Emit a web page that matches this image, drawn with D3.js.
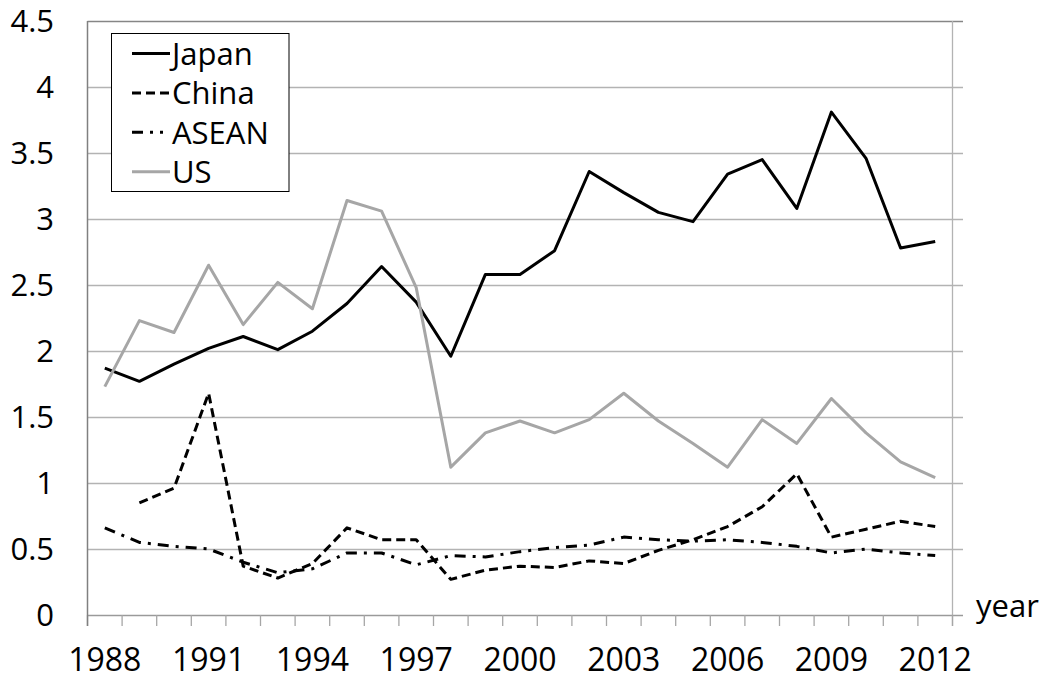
<!DOCTYPE html>
<html>
<head>
<meta charset="utf-8">
<script src="https://cdn.jsdelivr.net/npm/d3@7"></script>
<style>
  html, body { margin: 0; padding: 0; background: #fff; }
  svg { display: block; }
  text { font-family: "Open Sans", "Noto Sans", sans-serif; fill: #000; }
</style>
</head>
<body>
<svg id="chart" width="1044" height="682"></svg>
<script>
// ---- data ----
const years = [1988,1989,1990,1991,1992,1993,1994,1995,1996,1997,1998,1999,2000,
               2001,2002,2003,2004,2005,2006,2007,2008,2009,2010,2011,2012];
const japan = [1.87,1.77,1.90,2.02,2.11,2.01,2.15,2.36,2.64,2.37,1.96,2.58,2.58,
               2.76,3.36,3.20,3.05,2.98,3.34,3.45,3.08,3.81,3.46,2.78,2.83];
const china = [null,0.85,0.96,1.68,0.37,0.28,0.39,0.66,0.57,0.57,0.27,0.34,0.37,
               0.36,0.41,0.39,0.49,0.57,0.67,0.82,1.07,0.59,0.65,0.71,0.67];
const asean = [0.66,0.55,0.52,0.50,0.40,0.32,0.35,0.47,0.47,0.38,0.45,0.44,0.48,
               0.51,0.53,0.59,0.57,0.56,0.57,0.55,0.52,0.47,0.50,0.47,0.45];
const us    = [1.73,2.23,2.14,2.65,2.20,2.52,2.32,3.14,3.06,2.48,1.12,1.38,1.47,
               1.38,1.48,1.68,1.47,1.30,1.12,1.48,1.30,1.64,1.38,1.16,1.04];
const yTicks = [0,0.5,1,1.5,2,2.5,3,3.5,4,4.5];
const xTickLabels = [1988,1991,1994,1997,2000,2003,2006,2009,2012];
const seriesNames = ["Japan","China","ASEAN","US"];

const series = [
  {name: seriesNames[0], values: japan, color: "#000", dash: null, legendDash: null},
  {name: seriesNames[1], values: china, color: "#000", dash: "9,5", legendDash: "9,5"},
  {name: seriesNames[2], values: asean, color: "#000", dash: "11,7,3,7", legendDash: "11,7,3,7,3,20"},
  {name: seriesNames[3], values: us, color: "#a6a6a6", dash: null, legendDash: null}
];

// ---- layout ----
const svg = d3.select("#chart");
const pLeft = 87.5, pRight = 952.5, pTop = 21, pBottom = 615;

const x = d3.scaleBand().domain(years).range([pLeft, pRight]).padding(0);
const y = d3.scaleLinear().domain([0, 4.5]).range([pBottom, pTop]);
const cx = d => x(d) + x.bandwidth() / 2;

// gridlines
svg.append("g").selectAll("line").data(yTicks.filter(v => v > 0)).join("line")
  .attr("x1", pLeft).attr("x2", 963)
  .attr("y1", d => Math.round(y(d)) + 0.5).attr("y2", d => Math.round(y(d)) + 0.5)
  .attr("stroke", d => d === 4.5 ? "#868686" : "#b3b3b3").attr("stroke-width", 1.3);

// right border line
svg.append("line").attr("x1", pRight).attr("x2", pRight).attr("y1", pTop).attr("y2", pBottom + 11)
  .attr("stroke", "#b3b3b3").attr("stroke-width", 1.3);

// bottom axis line + ticks
svg.append("line").attr("x1", pLeft).attr("x2", 963).attr("y1", pBottom + 0.5).attr("y2", pBottom + 0.5)
  .attr("stroke", "#9a9a9a").attr("stroke-width", 1.3);
const tickPos = years.map(d => x(d)).concat([pRight]);
svg.append("g").selectAll("line").data(tickPos).join("line")
  .attr("x1", d => d).attr("x2", d => d).attr("y1", pBottom).attr("y2", pBottom + 11)
  .attr("stroke", "#a6a6a6").attr("stroke-width", 1.3);

// left axis line
svg.append("line").attr("x1", pLeft).attr("x2", pLeft).attr("y1", pTop).attr("y2", pBottom + 11)
  .attr("stroke", "#808080").attr("stroke-width", 1.5);

// y axis labels
const yAxis = d3.axisLeft(y).tickValues(yTicks).tickSize(0).tickPadding(0).tickFormat(d => String(d));
const gy = svg.append("g").attr("transform", "translate(54,0)").call(yAxis);
gy.select(".domain").remove();
gy.selectAll("text").attr("font-size", 31).attr("font-family", "Open Sans").attr("dy", "0.34em").attr("fill", "#000");

// x axis labels
svg.append("g").selectAll("text").data(xTickLabels).join("text")
  .attr("x", d => cx(d)).attr("y", 671).attr("text-anchor", "middle")
  .attr("font-size", 32).text(d => d);

// year label
svg.append("text").attr("x", 976).attr("y", 617).attr("font-size", 31).text("year");

// lines
const line = d3.line().defined(d => d.v != null).x(d => cx(d.year)).y(d => y(d.v));
svg.append("g").selectAll("path").data(series).join("path")
  .attr("d", s => line(years.map((yr, i) => ({year: yr, v: s.values[i]}))))
  .attr("fill", "none").attr("stroke", s => s.color).attr("stroke-width", 3)
  .attr("stroke-dasharray", s => s.dash).attr("stroke-linejoin", "round");

// legend
const lg = svg.append("g");
lg.append("rect").attr("x", 111.5).attr("y", 33.5).attr("width", 177.5).attr("height", 158)
  .attr("fill", "#fff").attr("stroke", "#000").attr("stroke-width", 1);
const rowY = i => 53.5 + i * 39.4;
lg.selectAll("line.s").data(series).join("line")
  .attr("x1", 132).attr("x2", 170)
  .attr("y1", (d, i) => rowY(i)).attr("y2", (d, i) => rowY(i))
  .attr("stroke", d => d.color).attr("stroke-width", 3)
  .attr("stroke-dasharray", d => d.legendDash);
lg.selectAll("text").data(series).join("text")
  .attr("x", 172).attr("y", (d, i) => rowY(i) + 11.5).attr("font-size", 31).text(d => d.name);
</script>
</body>
</html>
